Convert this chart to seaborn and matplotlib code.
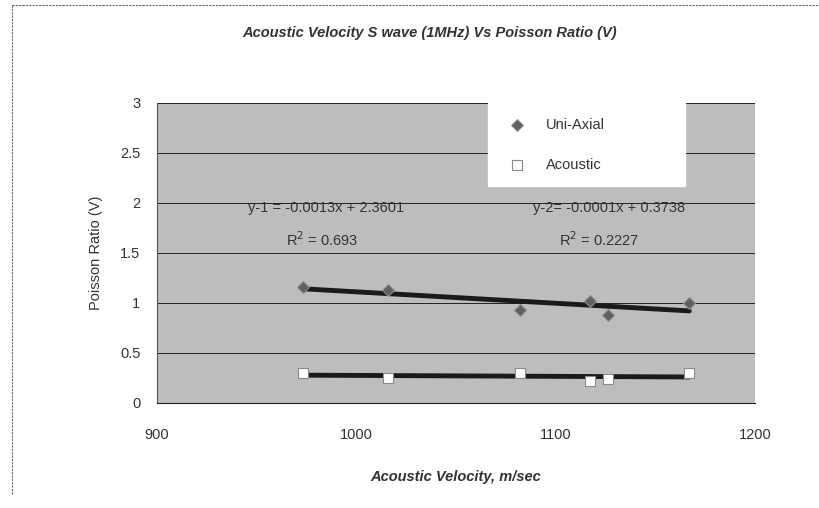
import matplotlib
matplotlib.use("Agg")
import matplotlib.pyplot as plt
from matplotlib.lines import Line2D
import numpy as np
import pandas as pd
import seaborn as sns

# values
velocity = [973, 1016, 1082, 1117, 1126, 1167]
uni_axial = [1.16, 1.13, 0.93, 1.02, 0.88, 1.00]
acoustic = [0.30, 0.25, 0.30, 0.22, 0.24, 0.30]
eq1 = ["y-1 = -0.0013x + 2.3601", "R$^2$ = 0.693"]
eq2 = ["y-2= -0.0001x + 0.3738", "R$^2$ = 0.2227"]

df = pd.DataFrame({"velocity": velocity, "uni": uni_axial, "acoustic": acoustic})

sns.set_style("white")
plt.rcParams["font.family"] = ["Liberation Sans", "DejaVu Sans"]

fig = plt.figure(figsize=(8.19, 5.08), dpi=100)
ax = fig.add_axes([0.1917, 0.2067, 0.7302, 0.5906])
ax.set_facecolor("#bdbdbd")

# trend lines
sns.regplot(x="velocity", y="uni", data=df, ax=ax, scatter=False, ci=None,
            line_kws=dict(color="#1a1a1a", lw=3.5, zorder=3))
sns.regplot(x="velocity", y="acoustic", data=df, ax=ax, scatter=False, ci=None,
            line_kws=dict(color="#1a1a1a", lw=3.5, zorder=3))

# points
sns.scatterplot(x="velocity", y="uni", data=df, ax=ax, marker="D", s=36,
                color="#606060", edgecolor="#8a8a8a", linewidth=0.8,
                label="Uni-Axial", zorder=4)
sns.scatterplot(x="velocity", y="acoustic", data=df, ax=ax, marker="s", s=42,
                color="white", edgecolor="#8a8a8a", linewidth=0.8,
                label="Acoustic", zorder=4)

ax.set_xlim(900, 1200)
ax.set_ylim(0, 3)
ax.set_xticks([900, 1000, 1100, 1200])
ax.set_yticks([0, 0.5, 1, 1.5, 2, 2.5, 3])
ax.set_yticklabels(["0", "0.5", "1", "1.5", "2", "2.5", "3"])
ax.grid(axis="y", color="#222222", lw=0.7)
ax.set_axisbelow(True)
for side in ["top", "right"]:
    ax.spines[side].set_visible(False)
ax.spines["left"].set_color("#555555")
ax.spines["bottom"].set_color("#222222")
ax.tick_params(axis="both", direction="out", length=4, width=0.7,
               labelsize=10.5, colors="#333333", pad=8)
ax.tick_params(axis="x", pad=14)

ax.set_xlabel("Acoustic Velocity, m/sec", fontsize=10.5, fontweight="bold",
              fontstyle="italic", color="#333333", labelpad=20)
ax.set_ylabel("Poisson Ratio (V)", fontsize=10.5, color="#333333", labelpad=12)
fig.text(0.525, 0.935, "Acoustic Velocity S wave (1MHz) Vs Poisson Ratio (V)",
         ha="center", va="center", fontsize=10.5, fontweight="bold",
         fontstyle="italic", color="#333333")

# regression labels
ax.text(985, 1.95, eq1[0], ha="center", va="center", fontsize=10.5, color="#333333")
ax.text(983, 1.63, eq1[1], ha="center", va="center", fontsize=10.5, color="#333333")
ax.text(1127, 1.95, eq2[0], ha="center", va="center", fontsize=10.5, color="#333333")
ax.text(1122, 1.63, eq2[1], ha="center", va="center", fontsize=10.5, color="#333333")

leg = ax.legend(loc="upper left", bbox_to_anchor=(0.5535, 0.733, 0.33, 0.267),
                mode="expand", frameon=True, fancybox=False, framealpha=1,
                facecolor="white", edgecolor="white", fontsize=10.5,
                labelspacing=1.8, borderpad=1.0, handletextpad=1.0,
                borderaxespad=0)
leg._legend_box.align = "left"
for t in leg.get_texts():
    t.set_color("#333333")

# chart border (top and left)
fig.add_artist(Line2D([12 / 819, 1.0], [1 - 5 / 508, 1 - 5 / 508],
                      color="#666666", lw=0.8, linestyle=(0, (2, 1))))
fig.add_artist(Line2D([12 / 819, 12 / 819], [1 - 5 / 508, 1 - 495 / 508],
                      color="#666666", lw=0.8, linestyle=(0, (2, 1))))

fig.savefig("out.png", dpi=100)
